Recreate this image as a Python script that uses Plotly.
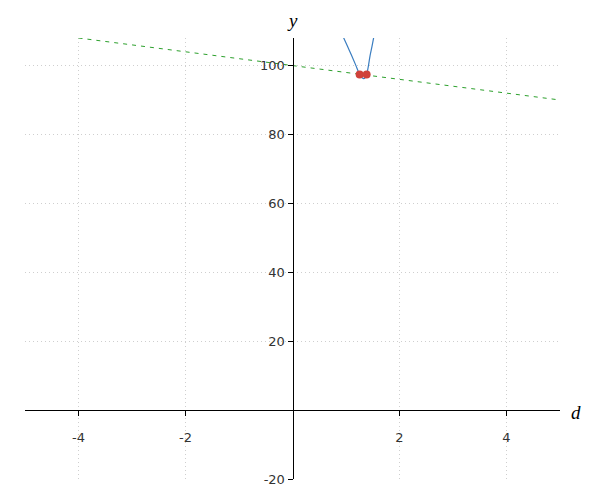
import plotly.graph_objects as go

# tangent line y = 100 - 2d, read at its ends
line_d = [-4, 5]
line_y = [108, 90]

# curve
curve_d = [0.955, 1.03, 1.105, 1.18, 1.255, 1.30, 1.33, 1.36, 1.386, 1.42, 1.45, 1.485, 1.517]
curve_y = [108.1, 105.5, 102.9, 100.2, 97.4, 96.5, 96.2, 96.5, 97.4, 100.0, 102.9, 105.5, 108.1]

# intersection points
pts_d = [1.255, 1.386]
pts_y = [97.4, 97.4]

x_ticks = [-4, -2, 2, 4]
y_ticks = [-20, 20, 40, 60, 80, 100]

fig = go.Figure()

fig.add_trace(go.Scatter(x=line_d, y=line_y, mode='lines',
                         line=dict(color='#2ca02c', width=1, dash='4px,5px')))
fig.add_trace(go.Scatter(x=curve_d, y=curve_y, mode='lines',
                         line=dict(color='#3a7dc0', width=1.2, shape='spline')))
fig.add_trace(go.Scatter(x=pts_d, y=pts_y, mode='markers',
                         marker=dict(color='#d0413a', size=8)))

grid = dict(showgrid=True, gridcolor='#cfcfcf', griddash='1px,3px', gridwidth=1,
            zeroline=False, automargin=False,
            ticks='outside', ticklen=5, tickcolor='black',
            showline=True, linecolor='black', linewidth=1)

# page body adds 8px, so margins are trimmed to land the plot at 25..560 / 38..479
fig.update_layout(
    width=592, height=492,
    margin=dict(l=17, r=40, t=30, b=21),
    plot_bgcolor='white', paper_bgcolor='white',
    showlegend=False,
    font=dict(family='DejaVu Sans', size=13, color='#333333'),
    xaxis=dict(range=[-5, 5], domain=[0, 1], anchor='free', position=20 / 128,
               tickvals=x_ticks, ticktext=[str(v) for v in x_ticks],
               ticklabelstandoff=10, **grid),
    yaxis=dict(range=[-20, 108], domain=[0, 1], anchor='free', position=0.5,
               tickvals=y_ticks, ticktext=[str(v) for v in y_ticks], **grid),
)

fig.add_annotation(text='<i>y</i>', x=0, y=1, xref='x', yref='paper',
                   yshift=30, showarrow=False,
                   font=dict(family='Liberation Serif', size=19, color='black'))
fig.add_annotation(text='<i>d</i>', x=1, y=0, xref='paper', yref='y',
                   xshift=23, yshift=-2, showarrow=False,
                   font=dict(family='Liberation Serif', size=19, color='black'))

fig.write_html("out.html")
